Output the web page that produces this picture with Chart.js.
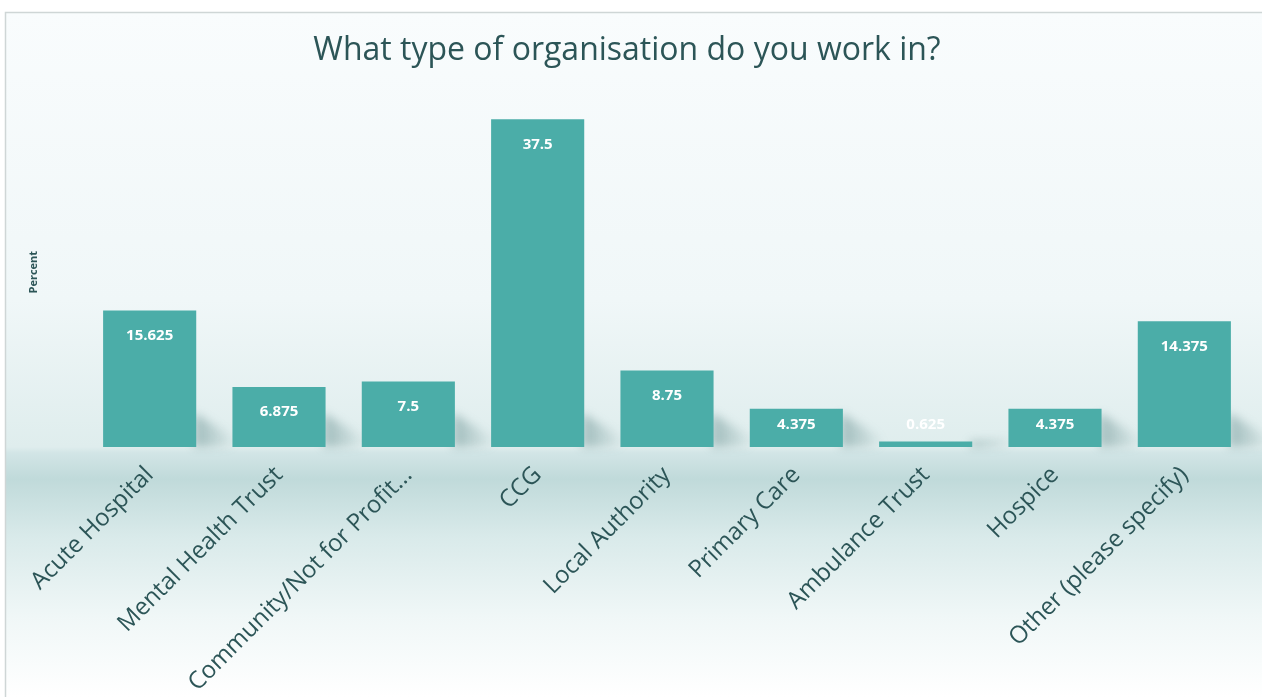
<!DOCTYPE html>
<html>
<head>
<meta charset="utf-8">
<script src="https://cdn.jsdelivr.net/npm/chart.js@4"></script>
<style>
  html, body { margin: 0; padding: 0; background: #fff; }
  #wrap { width: 1262px; height: 697px; }
</style>
</head>
<body>
<div id="wrap"><canvas id="myChart" width="1262" height="697"></canvas></div>
<script>
// data
const categories = ['Acute Hospital', 'Mental Health Trust', 'Community/Not for Profit...', 'CCG',
  'Local Authority', 'Primary Care', 'Ambulance Trust', 'Hospice', 'Other (please specify)'];
const percent = [15.625, 6.875, 7.5, 37.5, 8.75, 4.375, 0.625, 4.375, 14.375];

const barColor = '#4badA8';
const textColor = '#2c5557';

// frame + wall/floor gradient behind the chart
const backdrop = {
  id: 'backdrop',
  beforeDraw(chart) {
    const c = chart.ctx;
    const base = chart.chartArea.bottom;
    const h = chart.height;
    c.save();
    c.fillStyle = '#fff';
    c.fillRect(0, 0, chart.width, h);
    const g = c.createLinearGradient(0, 12, 0, h);
    const stop = (y, col) => g.addColorStop(Math.min(1, Math.max(0, (y - 12) / (h - 12))), col);
    stop(12, '#f9fcfd');
    stop(300, '#f0f7f8');
    stop(base, '#dfeded');
    stop(base + 6, '#d2e5e6');
    stop(base + 32, '#c0dada');
    stop(base + 90, '#d9eaea');
    stop(base + 170, '#f0f7f7');
    stop(h, '#ffffff');
    c.fillStyle = g;
    c.fillRect(5, 12, chart.width - 5, h - 12);
    c.strokeStyle = '#cfd6d6';
    c.lineWidth = 1.5;
    c.beginPath();
    c.moveTo(5.5, h);
    c.lineTo(5.5, 12.5);
    c.lineTo(chart.width, 12.5);
    c.stroke();
    c.restore();
  },
  // soft shadow on the floor to the right of each bar
  beforeDatasetsDraw(chart) {
    const c = chart.ctx;
    c.save();
    c.filter = 'blur(5px)';
    chart.getDatasetMeta(0).data.forEach(bar => {
      const right = bar.x + bar.width / 2;
      const top = Math.max(bar.y, bar.base - 34);
      const g = c.createLinearGradient(right, 0, right + 40, 0);
      g.addColorStop(0, 'rgba(60,110,110,0.38)');
      g.addColorStop(1, 'rgba(60,110,110,0)');
      c.fillStyle = g;
      c.beginPath();
      c.moveTo(right - 2, bar.base);
      c.lineTo(right - 2, top);
      c.lineTo(right + 40, bar.base - 8);
      c.lineTo(right + 40, bar.base);
      c.closePath();
      c.fill();
    });
    c.restore();
  }
};

// value labels inside the top of each bar
const valueLabels = {
  id: 'valueLabels',
  afterDatasetsDraw(chart) {
    const c = chart.ctx;
    c.save();
    c.font = 'bold 15px "Open Sans"';
    c.fillStyle = '#ffffff';
    c.textAlign = 'center';
    c.textBaseline = 'middle';
    chart.getDatasetMeta(0).data.forEach((bar, i) => {
      const y = Math.min(bar.y + 25, bar.base - 22);
      c.fillText(String(percent[i]), bar.x, y);
    });
    c.restore();
  }
};

const ctx = document.getElementById('myChart').getContext('2d');
const chart = new Chart(ctx, {
  type: 'bar',
  data: {
    labels: categories,
    datasets: [{
      label: 'Percent',
      data: percent,
      backgroundColor: barColor,
      borderWidth: 0,
      barPercentage: 0.72,
      categoryPercentage: 1
    }]
  },
  options: {
    responsive: false,
    devicePixelRatio: 1,
    animation: false,
    layout: { padding: { left: 5, right: 13, top: 0, bottom: 0 } },
    plugins: {
      legend: { display: false },
      tooltip: { enabled: false },
      title: {
        display: true,
        text: 'What type of organisation do you work in?',
        color: textColor,
        font: { family: 'Open Sans', size: 32, weight: 'normal' },
        padding: { top: 32, bottom: 27 }
      }
    },
    scales: {
      x: {
        grid: { display: false },
        border: { display: false },
        ticks: {
          color: textColor,
          font: { family: 'Open Sans', size: 24 },
          maxRotation: 45,
          minRotation: 45,
          autoSkip: false,
          padding: 6
        },
        afterFit: s => { s.height = 250; }
      },
      y: {
        min: 0,
        max: 40,
        grid: { display: false },
        border: { display: false },
        ticks: { display: false },
        title: {
          display: true,
          text: 'Percent',
          color: textColor,
          font: { family: 'Open Sans', size: 11, weight: 'bold' },
          padding: { top: 22, bottom: 0 }
        },
        afterFit: s => { s.width = 80; }
      }
    }
  },
  plugins: [backdrop, valueLabels]
});
</script>
</body>
</html>
